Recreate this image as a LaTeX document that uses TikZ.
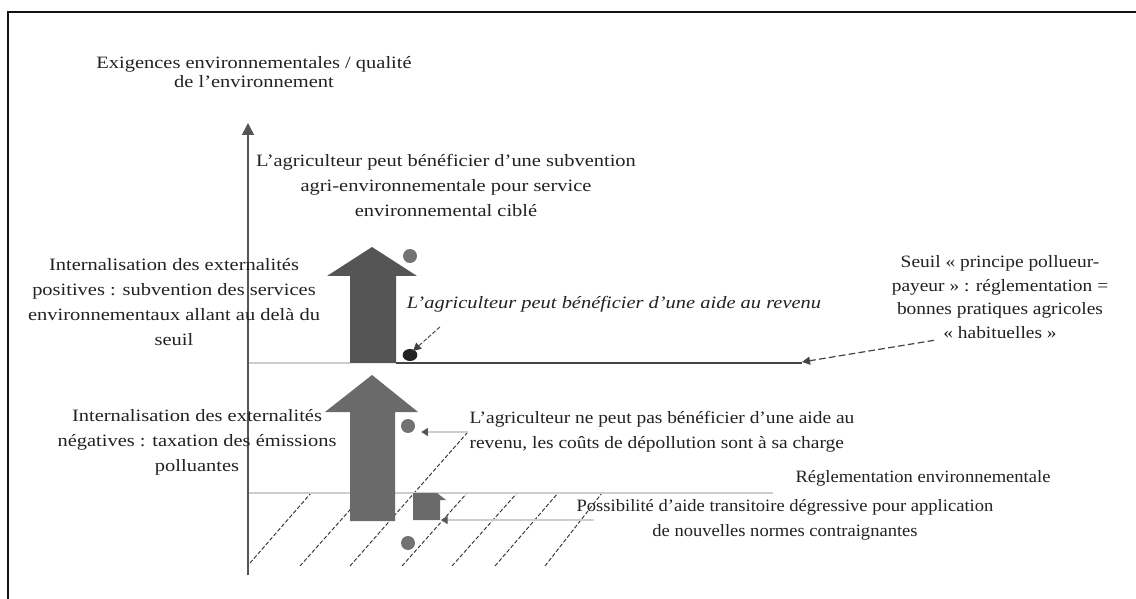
\documentclass[tikz,border=0pt]{standalone}
\usepackage{fontspec}
\setmainfont{Liberation Serif}
\newfontfamily\largeserif[Ligatures=TeX, FakeStretch=1.18]{Liberation Serif}
\newfontfamily\midserif[Ligatures=TeX, FakeStretch=1.12]{Liberation Serif}
\newfontfamily\smallserif[Ligatures=TeX, FakeStretch=1.07]{Liberation Serif}
\usetikzlibrary{
  arrows.meta,
  calc,
}
\definecolor{border}{HTML}{111111}
\definecolor{axisCol}{HTML}{555555}
\definecolor{arrowUp}{HTML}{555555}
\definecolor{arrowLow}{HTML}{6A6A6A}
\definecolor{dotCol}{HTML}{727272}
\definecolor{lightLine}{HTML}{CDCDCD}
\definecolor{seuilCol}{HTML}{444444}
\definecolor{hatchCol}{HTML}{333333}
\definecolor{textMain}{HTML}{222222}
\tikzset{
  txt/.style={
    align=center, inner sep=1pt, text=textMain,
    font=\largeserif\fontsize{13}{18.75}\selectfont,
  },
  txtmid/.style={txt, font=\midserif\fontsize{13}{17.8}\selectfont},
  txtsmall/.style={txt, font=\smallserif\fontsize{13}{18.75}\selectfont},
  dot/.style={circle, fill=dotCol, inner sep=0pt, minimum size=10.5pt},
  lightline/.style={lightLine, line width=1pt},
  lightarrow/.style={-{Triangle[width=6pt, length=5pt, color=axisCol]}, lightLine, line width=1pt},
  hatch/.style={hatchCol, dashed, dash pattern=on 3pt off 1.5pt, line width=0.7pt},
  darrow/.style={-{Triangle[width=6pt, length=6pt]}, seuilCol, dashed, dash pattern=on 5pt off 2.5pt, line width=0.9pt},
}

\begin{document}
\begin{tikzpicture}[x=0.75pt, y=-0.75pt]

  \useasboundingbox (0,0) rectangle (1136,599);
  \fill[white] (0,0) rectangle (1136,599);
  \draw[border, line width=1.2pt] (8,599) -- (8,12) -- (1136,12);

  % Axe vertical
  \coordinate (axeBas) at (248,575);
  \coordinate (axeHaut) at (248,123);
  \node[txt, font=\largeserif\fontsize{13}{14.5}\selectfont] (titre) at (254,72) {Exigences environnementales / qualité\\de l'environnement};

  % Hachures (zone reglementation)
  \foreach \xb/\yb/\xt/\yt in {250/563/311/493, 300/566/365/493, 350/566/467/433, 402/566/467/493, 452/566/517/493, 495/566/558/493, 545/566/602/493}
    \draw[hatch] (\xb,\yb) -- (\xt,\yt);

  \draw[lightline] (248,493) -- (773,493);
  \draw[lightline] (248,363) -- (350,363);
  \draw[seuilCol, line width=1.3pt] (396,363) -- (802,363);
  \coordinate (seuilFin) at (802,362);

  \draw[axisCol, line width=1.2pt, -{Triangle[width=9pt, length=9pt]}] (axeBas) -- (axeHaut);

  % Fleches larges
  \fill[arrowUp] (350,363) -- (350,276) -- (327,276) -- (372,247) -- (417,276) -- (396,276) -- (396,363) -- cycle;
  \fill[arrowLow] (350,521) -- (350,412) -- (325,412) -- (372,375) -- (418,412) -- (395,412) -- (395,521) -- cycle;
  \fill[arrowLow] (413,520) -- (413,493) -- (437,493) -- (446,500) -- (440,500) -- (440,520) -- cycle;
  \coordinate (petiteFleche) at (441,520);

  \node[dot] (cercleA) at (410,256) {};
  \node[dot] (cercleB) at (408,426) {};
  \node[dot] (cercleC) at (408,543) {};
  \fill[textMain] (410,355) ellipse (5.5pt and 4.5pt);
  \coordinate (blob) at (413,351);

  % Textes
  \node[txt] (subv) at (446,185) {L'agriculteur peut bénéficier d'une subvention\\agri-environnementale pour service\\environnemental ciblé};
  \node[txt] (posit) at (174,302) {Internalisation des externalités\\positives : subvention des services\\environnementaux allant au delà du\\seuil};
  \node[txt, font=\largeserif\fontsize{13}{18.75}\selectfont\itshape] (aide) at (614,304) {L'agriculteur peut bénéficier d'une aide au revenu};
  \node[txtmid] (seuil) at (1000,297) {Seuil « principe pollueur-\\payeur » : réglementation =\\bonnes pratiques agricoles\\« habituelles »};
  \node[txt] (negat) at (197,442) {Internalisation des externalités\\négatives : taxation des émissions\\polluantes};
  \node[txtsmall, font=\midserif\fontsize{13}{18.75}\selectfont, align=left, anchor=west] (nonaide) at (468,432) {L'agriculteur ne peut pas bénéficier d'une aide au\\revenu, les coûts de dépollution sont à sa charge};
  \node[txtsmall] (regl) at (923,478) {Réglementation environnementale};
  \node[txtsmall] (transit) at (785,520) {Possibilité d'aide transitoire dégressive pour application\\de nouvelles normes contraignantes};

  % Renvois
  \draw[darrow] ($(seuil.south west)!0.2!(seuil.south east)$) -- (seuilFin);
  \draw[darrow, dash pattern=on 3pt off 1.5pt, line width=0.7pt] ([xshift=26pt, yshift=-10pt]aide.south west) -- (blob);
  \draw[lightarrow] (nonaide.west) -- ($(cercleB.east |- nonaide.west)+(6,0)$);
  \draw[lightarrow] ([xshift=14pt]transit.west) -- (petiteFleche);

\end{tikzpicture}
\end{document}
